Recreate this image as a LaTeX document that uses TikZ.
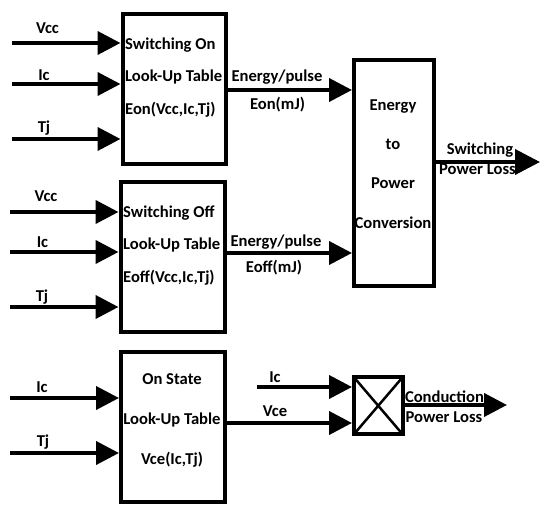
\documentclass[tikz,border=0pt]{standalone}
\usepackage{fontspec}
\setmainfont{Carlito}
\usetikzlibrary{arrows.meta,positioning}

\begin{document}
\begin{tikzpicture}[x=1pt, y=-1pt,
        font=\fontsize{16.6}{19}\selectfont\bfseries,
        blk/.style={draw, line width=4pt, inner sep=0pt},
        sig/.style={line width=4pt, -{Triangle[length=23pt, width=23pt]}},
        lbl/.style={inner sep=0pt},
        txt/.style={inner sep=0pt, font=\fontsize{16.6}{#1}\selectfont\bfseries}]
        \useasboundingbox (0,0) rectangle (550,516);
        % Blocks
        \node[blk, minimum width=103pt, minimum height=150.5pt] (lton)  at (174,89.25)   {};
        \node[blk, minimum width=104pt, minimum height=149.5pt] (ltoff) at (172.5,257.25) {};
        \node[blk, minimum width=103.5pt, minimum height=149.5pt] (ltst) at (172.75,427.25) {};
        \node[blk, minimum width=80pt, minimum height=225.5pt] (conv) at (394,173.25) {};
        \node[blk, minimum width=48.5pt, minimum height=57.5pt] (mult) at (378.25,405.75) {};
        \draw[line width=2.5pt, shorten <=2pt, shorten >=2pt] (mult.north west) -- (mult.south east);
        \draw[line width=2.5pt, shorten <=2pt, shorten >=2pt] (mult.south west) -- (mult.north east);
        % Block texts
        \node[txt=32.5, align=left, anchor=west] (lton-t)  at (125,77.5)  {Switching On\\Look-Up Table\\Eon(Vcc,Ic,Tj)};
        \node[txt=32.5, align=left, anchor=west] (ltoff-t) at (123,245.5) {Switching Off\\Look-Up Table\\Eoff(Vcc,Ic,Tj)};
        \node[txt=40, align=center] (ltst-t) at (172,420) {On State\\Look-Up Table\\Vce(Ic,Tj)};
        \node[txt=39.3, align=center] (conv-t) at (393,164) {Energy\\to\\Power\\Conversion};
        % Inputs of the switching on table
        \coordinate (vcc1) at (12,43);
        \coordinate (ic1)  at (12,84);
        \coordinate (tj1)  at (12,139);
        \draw[sig] (vcc1) -- (vcc1 -| lton.west);
        \draw[sig] (ic1)  -- (ic1 -| lton.west);
        \draw[sig] (tj1)  -- (tj1 -| lton.west);
        \node[lbl] (vcc1-l) at (47.5,28) {Vcc};
        \node[lbl] (ic1-l)  at (44,75)   {Ic};
        \node[lbl] (tj1-l)  at (44,128)  {Tj};
        % Inputs of the switching off table
        \coordinate (vcc2) at (10,212);
        \coordinate (ic2)  at (10,252);
        \coordinate (tj2)  at (10,307);
        \draw[sig] (vcc2) -- (vcc2 -| ltoff.west);
        \draw[sig] (ic2)  -- (ic2 -| ltoff.west);
        \draw[sig] (tj2)  -- (tj2 -| ltoff.west);
        \node[lbl] (vcc2-l) at (46,196) {Vcc};
        \node[lbl] (ic2-l)  at (42.5,242) {Ic};
        \node[lbl] (tj2-l)  at (42,297) {Tj};
        % Inputs of the on state table
        \coordinate (ic3) at (10,398);
        \coordinate (tj3) at (10,453);
        \draw[sig] (ic3) -- (ic3 -| ltst.west);
        \draw[sig] (tj3) -- (tj3 -| ltst.west);
        \node[lbl] (ic3-l) at (42,387) {Ic};
        \node[lbl] (tj3-l) at (43,442) {Tj};
        % Energy per pulse
        \coordinate (eon)  at (300,90);
        \coordinate (eoff) at (300,253);
        \draw[sig] (eon -| lton.east)   -- (eon -| conv.west);
        \draw[sig] (eoff -| ltoff.east) -- (eoff -| conv.west);
        \node[lbl] (eon-l1)  at (277,77)    {Energy/pulse};
        \node[lbl] (eon-l2)  at (277.5,105) {Eon(mJ)};
        \node[lbl] (eoff-l1) at (276,242)   {Energy/pulse};
        \node[lbl] (eoff-l2) at (274,268)   {Eoff(mJ)};
        % Switching power loss
        \coordinate (swloss) at (540,162);
        \draw[line width=4pt, -{Triangle[length=25pt, width=25pt]}] (swloss -| conv.east) -- (swloss);
        \node[lbl] (swloss-l1) at (480,150)   {Switching};
        \node[lbl] (swloss-l2) at (477.5,169) {Power Loss};
        % Conduction power loss
        \coordinate (icm)  at (257,387);
        \coordinate (vcem) at (300,423);
        \coordinate (cdloss) at (507,405);
        \draw[sig] (icm) -- (icm -| mult.west);
        \draw[sig] (vcem -| ltst.east) -- (vcem -| mult.west);
        \draw[sig] (mult.east |- cdloss) -- (cdloss);
        \node[lbl] (icm-l)  at (275,377) {Ic};
        \node[lbl] (vcem-l) at (275,411) {Vce};
        \node[lbl] (cdloss-l1) at (444.5,397) {Conduction};
        \node[lbl] (cdloss-l2) at (444,417)   {Power Loss};
\end{tikzpicture}
\end{document}
